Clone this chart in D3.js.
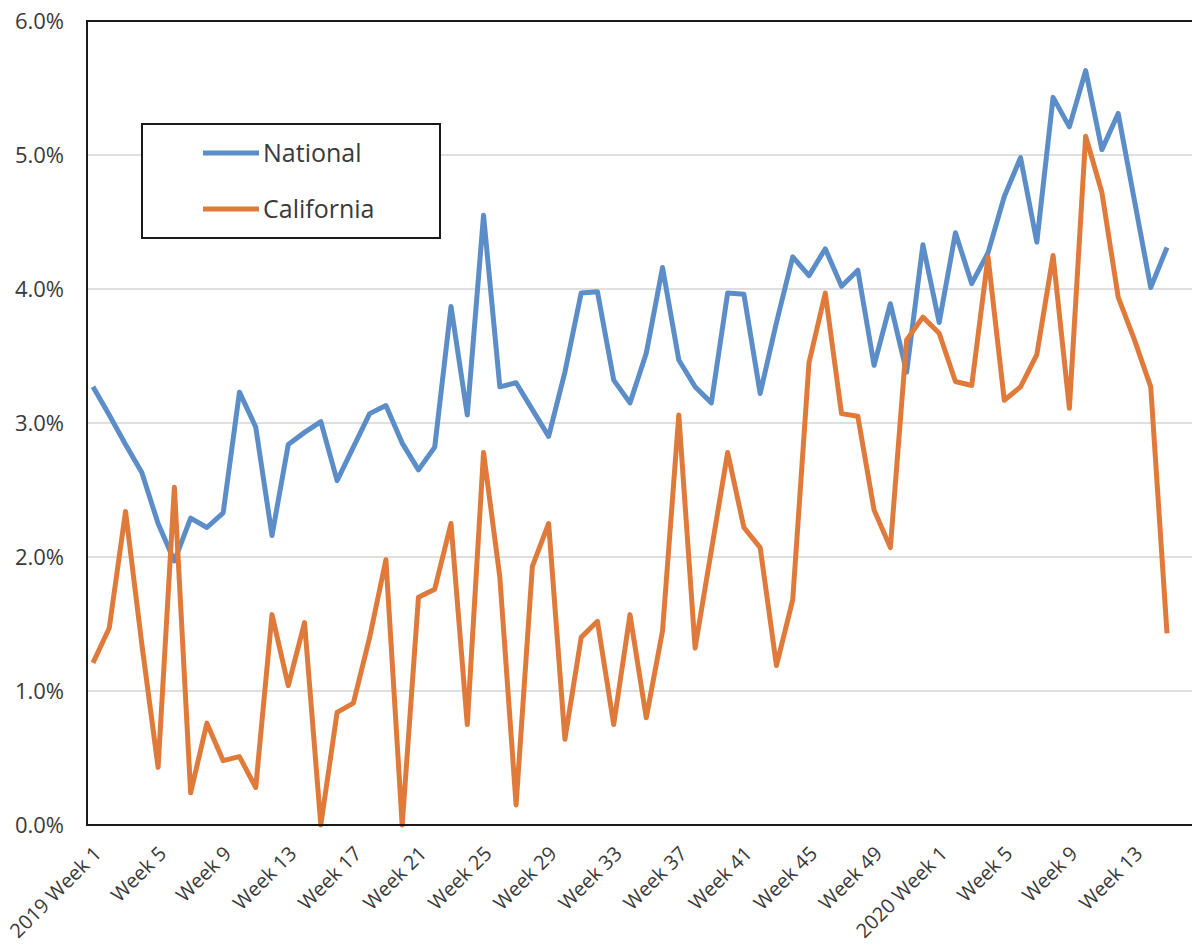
<!DOCTYPE html>
<html>
<head>
<meta charset="utf-8">
<script src="https://cdn.jsdelivr.net/npm/d3@7"></script>
<style>
  html, body { margin: 0; padding: 0; background: #fff; }
  svg { display: block; }
  text { font-family: "Open Sans", sans-serif; fill: #3a3a3a; }
</style>
</head>
<body>
<svg id="chart" width="1192" height="947"></svg>
<script>
// ---- data ----
const weeks2019 = d3.range(1, 53).map(w => "2019 Week " + w);
const weeks2020 = d3.range(1, 16).map(w => "2020 Week " + w);
const categories = weeks2019.concat(weeks2020);

const national = [
  3.27, 3.06, 2.84, 2.63, 2.25, 1.97, 2.29, 2.22, 2.33, 3.23,
  2.97, 2.16, 2.84, 2.93, 3.01, 2.57, 2.82, 3.07, 3.13, 2.85,
  2.65, 2.82, 3.87, 3.06, 4.55, 3.27, 3.30, 3.10, 2.90, 3.38,
  3.97, 3.98, 3.32, 3.15, 3.52, 4.16, 3.47, 3.27, 3.15, 3.97,
  3.96, 3.22, 3.75, 4.24, 4.10, 4.30, 4.02, 4.14, 3.43, 3.89,
  3.38, 4.33, 3.75, 4.42, 4.04, 4.27, 4.69, 4.98, 4.35, 5.43,
  5.21, 5.63, 5.04, 5.31, 4.66, 4.01, 4.31
];
const california = [
  1.21, 1.47, 2.34, 1.35, 0.43, 2.52, 0.24, 0.76, 0.48, 0.51,
  0.28, 1.57, 1.04, 1.51, 0.00, 0.84, 0.91, 1.40, 1.98, 0.00,
  1.70, 1.76, 2.25, 0.75, 2.78, 1.85, 0.15, 1.93, 2.25, 0.64,
  1.40, 1.52, 0.75, 1.57, 0.80, 1.45, 3.06, 1.32, 2.05, 2.78,
  2.22, 2.07, 1.19, 1.68, 3.45, 3.97, 3.07, 3.05, 2.35, 2.07,
  3.62, 3.79, 3.67, 3.31, 3.28, 4.24, 3.17, 3.27, 3.51, 4.25,
  3.11, 5.14, 4.72, 3.94, 3.62, 3.27, 1.43
];
const seriesNames = ["National", "California"];
const seriesColors = ["#5b8ec8", "#e07a3b"];
const yTicks = [0, 1, 2, 3, 4, 5, 6];
const xTickCats = categories.filter((c, i) => i % 4 === 0);
const xTickLabel = c => {
  const [yr, , w] = c.split(" ");
  return (w === "1") ? c : "Week " + w;
};

// ---- layout ----
const svg = d3.select("#chart");
const plot = { left: 87, top: 21, right: 1196, bottom: 825 };

const x = d3.scalePoint().domain(categories).range([93, 1167]);
const y = d3.scaleLinear().domain([0, 6]).range([plot.bottom, plot.top]);

// gridlines
svg.append("g").selectAll("line")
  .data(yTicks.filter(t => t > 0 && t < 6))
  .join("line")
  .attr("x1", plot.left).attr("x2", plot.right)
  .attr("y1", d => y(d)).attr("y2", d => y(d))
  .attr("stroke", "#d4d4d4").attr("stroke-width", 1.5);

// y axis labels
const yAxis = d3.axisLeft(y).tickValues(yTicks)
  .tickFormat(d => d3.format(".1f")(d) + "%").tickSize(0).tickPadding(0);
const gy = svg.append("g").attr("transform", "translate(64,0)").call(yAxis);
gy.select(".domain").remove();
gy.selectAll("text").attr("font-size", 22).attr("font-family", "Open Sans, sans-serif")
  .attr("fill", "#3a3a3a").attr("dy", "0.36em");

// x axis labels
const xAxis = d3.axisBottom(x).tickValues(xTickCats).tickFormat(xTickLabel).tickSize(0).tickPadding(0);
const gx = svg.append("g").attr("transform", `translate(0,${plot.bottom})`).call(xAxis);
gx.select(".domain").remove();
gx.selectAll(".tick text")
  .attr("font-size", 20).attr("font-family", "Open Sans, sans-serif").attr("fill", "#3a3a3a")
  .attr("text-anchor", "end")
  .attr("y", 0).attr("dy", 0)
  .attr("transform", "translate(9,30) rotate(-45)");

// lines
const line = d3.line().x((d, i) => x(categories[i])).y(d => y(d));
[national, california].forEach((s, k) => {
  svg.append("path").datum(s)
    .attr("d", line)
    .attr("fill", "none")
    .attr("stroke", seriesColors[k])
    .attr("stroke-width", 5)
    .attr("stroke-linejoin", "round");
});

// plot frame
svg.append("rect")
  .attr("x", plot.left).attr("y", plot.top)
  .attr("width", plot.right - plot.left).attr("height", plot.bottom - plot.top)
  .attr("fill", "none").attr("stroke", "#1a1a1a").attr("stroke-width", 2);

// legend
const lg = svg.append("g");
lg.append("rect").attr("x", 142).attr("y", 124).attr("width", 298).attr("height", 114)
  .attr("fill", "#fff").attr("stroke", "#1a1a1a").attr("stroke-width", 2);
seriesNames.forEach((n, k) => {
  const yy = 153 + k * 56;
  lg.append("line").attr("x1", 203).attr("x2", 259).attr("y1", yy).attr("y2", yy)
    .attr("stroke", seriesColors[k]).attr("stroke-width", 5);
  lg.append("text").attr("x", 263).attr("y", yy).attr("dy", "0.36em")
    .attr("font-size", 25).attr("fill", "#2a2a2a").text(n);
});
</script>
</body>
</html>
